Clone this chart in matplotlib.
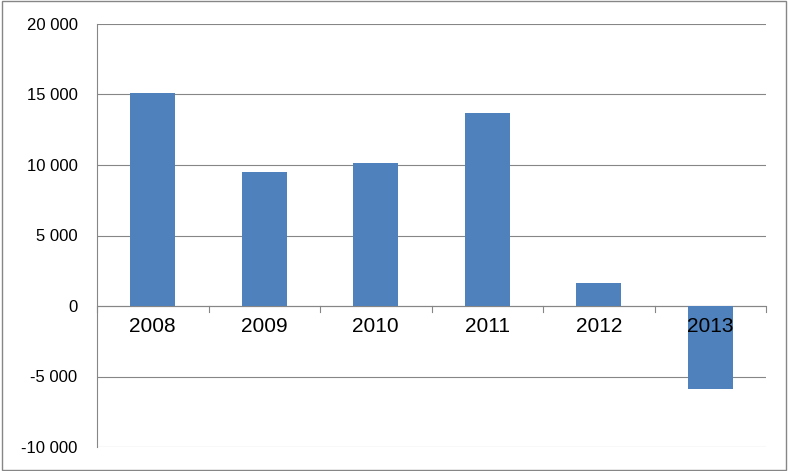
import matplotlib.pyplot as plt
from matplotlib.patches import Rectangle

years = ['2008', '2009', '2010', '2011', '2012', '2013']
values = [15100, 9500, 10150, 13700, 1600, -5900]
yticks = [-10000, -5000, 0, 5000, 10000, 15000, 20000]

plt.rcParams['font.family'] = ['Liberation Sans', 'DejaVu Sans']
fig = plt.figure(figsize=(7.88, 4.71), dpi=100)
ax = fig.add_axes([97 / 788, 24 / 471, (766 - 97) / 788, (447 - 24) / 471])
fig.patches.append(Rectangle((0.002, 0.002), 0.996, 0.996, transform=fig.transFigure,
                             fill=False, edgecolor='#868686', linewidth=1))

x = range(len(years))
ax.bar(x, values, width=0.4, color='#4F81BD', zorder=3)
ax.set_xlim(-0.5, len(years) - 0.5)
ax.set_ylim(-10000, 20000)
ax.set_yticks(yticks)
ax.set_yticklabels([f'{v:,}'.replace(',', ' ') for v in yticks], fontsize=12)
ax.grid(axis='y', color='#868686', linewidth=0.8, zorder=0)
ax.tick_params(axis='y', length=0, pad=14)
ax.tick_params(axis='x', length=0)
ax.set_xticks([])
for i, y in enumerate(years):
    ax.text(i, -800, y, ha='center', va='top', fontsize=15, zorder=4)
# category ticks on zero line
for i in range(len(years) + 1):
    ax.plot([i - 0.5, i - 0.5], [0, -400], color='#868686', linewidth=0.8, clip_on=False)
ax.axhline(0, color='#868686', linewidth=0.8, zorder=2)
for s in ['top', 'right', 'bottom']:
    ax.spines[s].set_visible(False)
ax.spines['left'].set_color('#868686')
fig.savefig('out.png')
